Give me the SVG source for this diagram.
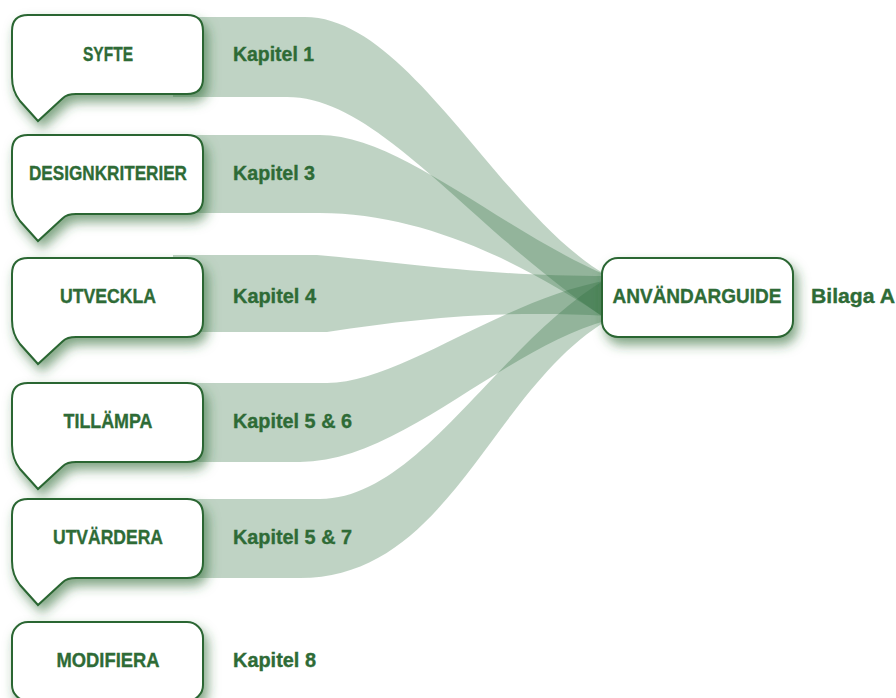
<svg xmlns="http://www.w3.org/2000/svg" xmlns:xlink="http://www.w3.org/1999/xlink" width="896" height="698" viewBox="0 0 896 698">
<style>
.band{fill:#327242;fill-opacity:0.31;stroke:none}
.box{fill:#ffffff;stroke:#2a6632;stroke-width:2;filter:url(#sh)}
.lbl{font-family:"Liberation Sans",Arial,sans-serif;font-weight:bold;font-size:20px;fill:#2e6b36;stroke:#2e6b36;stroke-width:0.35}
.c{text-anchor:middle}
</style>
<defs>
<filter id="sh" x="-20%" y="-20%" width="150%" height="160%">
<feDropShadow dx="4" dy="7" stdDeviation="6" flood-color="#2e6b36" flood-opacity="0.6"/>
</filter>
<path id="bubble" d="M16,0 H175 Q191,0 191,16 V63 Q191,79 175,79 H64 Q55,79 51,83 L26,106 L8,86 Q0,76 0,62 V16 Q0,0 16,0 Z"/>
</defs>
<rect width="896" height="698" fill="#ffffff"/>
<g id="connectors">
<path class="band" d="M173,17 H305 C410,17 500,215 608,276 L608,320 C470,230 380,97 287,97 H173 Z"/>
<path class="band" d="M173,135 H320 C400,135 500,230 608,276 L608,320 C520,260 420,213 320,213 H173 Z"/>
<path class="band" d="M173,255 H317 C400,262 480,276 608,276 L608,316 C500,310 420,318 327,332 H173 Z"/>
<path class="band" d="M173,383 H327 C400,383 500,300 608,280 L608,320 C500,350 400,462 300,462 H173 Z"/>
<path class="band" d="M173,499 H320 C420,499 500,340 608,278 L608,320 C490,390 450,578 300,578 H173 Z"/>
</g>
<g id="syfte">
<use xlink:href="#bubble" href="#bubble" class="box" transform="translate(12,15)"/>
<text class="lbl c" x="108" y="61" textLength="50" lengthAdjust="spacingAndGlyphs">SYFTE</text>
<text class="lbl" x="233" y="61" textLength="81" lengthAdjust="spacingAndGlyphs">Kapitel 1</text>
</g>
<g id="designkriterier">
<use xlink:href="#bubble" href="#bubble" class="box" transform="translate(12,135)"/>
<text class="lbl c" x="108" y="180" textLength="158" lengthAdjust="spacingAndGlyphs">DESIGNKRITERIER</text>
<text class="lbl" x="233" y="180" textLength="82" lengthAdjust="spacingAndGlyphs">Kapitel 3</text>
</g>
<g id="utveckla">
<use xlink:href="#bubble" href="#bubble" class="box" transform="translate(12,258)"/>
<text class="lbl c" x="108" y="303" textLength="96" lengthAdjust="spacingAndGlyphs">UTVECKLA</text>
<text class="lbl" x="233" y="303" textLength="83" lengthAdjust="spacingAndGlyphs">Kapitel 4</text>
</g>
<g id="tillampa">
<use xlink:href="#bubble" href="#bubble" class="box" transform="translate(12,383)"/>
<text class="lbl c" x="108" y="428" textLength="89" lengthAdjust="spacingAndGlyphs">TILLÄMPA</text>
<text class="lbl" x="233" y="428" textLength="119" lengthAdjust="spacingAndGlyphs">Kapitel 5 &amp; 6</text>
</g>
<g id="utvardera">
<use xlink:href="#bubble" href="#bubble" class="box" transform="translate(12,499)"/>
<text class="lbl c" x="108" y="544" textLength="110" lengthAdjust="spacingAndGlyphs">UTVÄRDERA</text>
<text class="lbl" x="233" y="544" textLength="119" lengthAdjust="spacingAndGlyphs">Kapitel 5 &amp; 7</text>
</g>
<g id="modifiera">
<rect class="box" x="12" y="622" width="191" height="79" rx="16" ry="16"/>
<text class="lbl c" x="108" y="667" textLength="103" lengthAdjust="spacingAndGlyphs">MODIFIERA</text>
<text class="lbl" x="233" y="667" textLength="83" lengthAdjust="spacingAndGlyphs">Kapitel 8</text>
</g>
<g id="anvandarguide">
<rect class="box" x="602" y="258" width="191" height="79" rx="16" ry="16"/>
<text class="lbl c" x="697" y="303" textLength="169" lengthAdjust="spacingAndGlyphs">ANVÄNDARGUIDE</text>
<text class="lbl" x="811" y="303" textLength="84" lengthAdjust="spacingAndGlyphs">Bilaga A</text>
</g>
</svg>
